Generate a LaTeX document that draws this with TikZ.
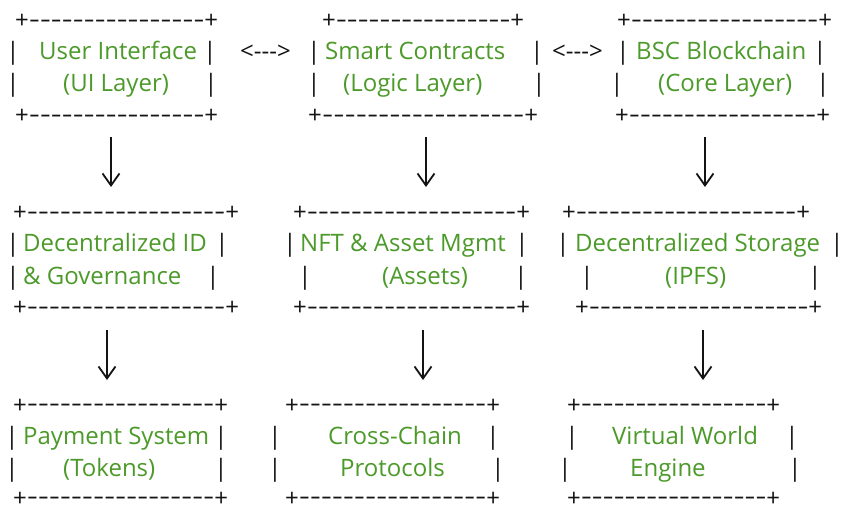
\documentclass[tikz,border=0pt]{standalone}
\usepackage{fontspec}
\newfontfamily\osans{Open Sans}
\usepackage{graphicx}
\usetikzlibrary{arrows.meta}
\definecolor{lblgreen}{RGB}{76,154,42}
\definecolor{ink}{RGB}{20,20,20}
\newcommand\dsh{\raisebox{1.5pt}{\scalebox{1.4}[1]{\hbox{-}}}}
\newcommand\bord[1]{\hbox to #1pt{+\xleaders\hbox{\dsh}\hfill+}}
\newcommand\lnk{<\hbox{-}\hbox{-}\hbox{-}>}
\tikzset{
  txtbase/.style={inner sep=0pt, font=\osans\fontsize{24}{30}\selectfont},
  bordtxt/.style={txtbase, anchor=base west, text=ink},
  bartxt/.style={txtbase, anchor=base, text=ink},
  lbl/.style={txtbase, anchor=base west, text=lblgreen},
  linktxt/.style={txtbase, anchor=base west, text=ink},
  flow/.style={draw=ink, line width=1.8pt, -{Straight Barb[length=12pt,width=17pt,line width=1.8pt]}}
}
\begin{document}
\begin{tikzpicture}[x=1pt,y=-1pt]
\fill[white] (0,0) rectangle (841,505);
\useasboundingbox (0,0) rectangle (841,505);
% ---------- Row 1 ----------
% Box A
\node[bordtxt] (aTop) at (15,29) {\bord{203}};
\node[bartxt] (aL1a) at (13,60) {|};
\node[lbl] (aName) at (39,60) {User Interface};
\node[bartxt] (aL1b) at (210,60) {|};
\node[bartxt] (aL2a) at (13,92) {|};
\node[lbl] (aSub) at (63,92) {(UI Layer)};
\node[bartxt] (aL2b) at (211,92) {|};
\node[bordtxt] (aBot) at (15,124) {\bord{203}};
\node[linktxt] (lnkAB) at (240,60) {\lnk};
% Box B
\node[bordtxt] (bTop) at (322,29) {\bord{202}};
\node[bartxt] (bL1a) at (314,60) {|};
\node[lbl] (bName) at (325,60) {Smart Contracts};
\node[bartxt] (bL1b) at (537,60) {|};
\node[bartxt] (bL2a) at (314,92) {|};
\node[lbl] (bSub) at (343,92) {(Logic Layer)};
\node[bartxt] (bL2b) at (539,92) {|};
\node[bordtxt] (bBot) at (308,124) {\bord{230}};
\node[linktxt] (lnkBC) at (552,60) {\lnk};
% Box C
\node[bordtxt] (cTop) at (617,29) {\bord{215}};
\node[bartxt] (cL1a) at (623,60) {|};
\node[lbl] (cName) at (636,60) {BSC Blockchain};
\node[bartxt] (cL1b) at (820,60) {|};
\node[bartxt] (cL2a) at (617,92) {|};
\node[lbl] (cSub) at (658,92) {(Core Layer)};
\node[bartxt] (cL2b) at (823,92) {|};
\node[bordtxt] (cBot) at (615,124) {\bord{215}};
% ---------- Row 2 ----------
% Box D
\node[bordtxt] (dTop) at (13,221) {\bord{226}};
\node[bartxt] (dL1a) at (13,252) {|};
\node[lbl] (dName) at (23,252) {Decentralized ID};
\node[bartxt] (dL1b) at (222,252) {|};
\node[bartxt] (dL2a) at (13,284) {|};
\node[lbl] (dSub) at (23,284) {\& Governance};
\node[bartxt] (dL2b) at (213,284) {|};
\node[bordtxt] (dBot) at (13,316) {\bord{226}};
% Box E
\node[bordtxt] (eTop) at (293,221) {\bord{237}};
\node[bartxt] (eL1a) at (290,252) {|};
\node[lbl] (eName) at (300,252) {NFT \& Asset Mgmt};
\node[bartxt] (eL1b) at (522,252) {|};
\node[bartxt] (eL2a) at (305,284) {|};
\node[lbl] (eSub) at (382,284) {(Assets)};
\node[bartxt] (eL2b) at (521,284) {|};
\node[bordtxt] (eBot) at (293,316) {\bord{237}};
% Box F
\node[bordtxt] (fTop) at (562,221) {\bord{248}};
\node[bartxt] (fL1a) at (563,252) {|};
\node[lbl] (fName) at (575,252) {Decentralized Storage};
\node[bartxt] (fL1b) at (837,252) {|};
\node[bartxt] (fL2a) at (587,284) {|};
\node[lbl] (fSub) at (665,284) {(IPFS)};
\node[bartxt] (fL2b) at (815,284) {|};
\node[bordtxt] (fBot) at (575,316) {\bord{247}};
% ---------- Row 3 ----------
% Box G
\node[bordtxt] (gTop) at (13,413) {\bord{215}};
\node[bartxt] (gL1a) at (12,444) {|};
\node[lbl] (gName) at (23,444) {Payment System};
\node[bartxt] (gL1b) at (221,444) {|};
\node[bartxt] (gL2a) at (12,476) {|};
\node[lbl] (gSub) at (63,476) {(Tokens)};
\node[bartxt] (gL2b) at (221,476) {|};
\node[bordtxt] (gBot) at (13,506) {\bord{215}};
% Box H
\node[bordtxt] (hTop) at (285,413) {\bord{215}};
\node[bartxt] (hL1a) at (275,444) {|};
\node[lbl] (hName) at (328,444) {Cross-Chain};
\node[bartxt] (hL1b) at (493,444) {|};
\node[bartxt] (hL2a) at (275,476) {|};
\node[lbl] (hSub) at (340,476) {Protocols};
\node[bartxt] (hL2b) at (498,476) {|};
\node[bordtxt] (hBot) at (285,506) {\bord{215}};
% Box I
\node[bordtxt] (iTop) at (567,413) {\bord{213}};
\node[bartxt] (iL1a) at (572,444) {|};
\node[lbl] (iName) at (612,444) {Virtual World};
\node[bartxt] (iL1b) at (792,444) {|};
\node[bartxt] (iL2a) at (565,476) {|};
\node[lbl] (iSub) at (630,476) {Engine};
\node[bartxt] (iL2b) at (795,476) {|};
\node[bordtxt] (iBot) at (567,506) {\bord{213}};
% ---------- Arrows ----------
\coordinate (ad1) at (111,137); \coordinate (ad2) at (111,187);
\coordinate (be1) at (426,137); \coordinate (be2) at (426,187);
\coordinate (cf1) at (705,137); \coordinate (cf2) at (705,187);
\coordinate (dg1) at (107,330); \coordinate (dg2) at (107,380);
\coordinate (eh1) at (423,330); \coordinate (eh2) at (423,380);
\coordinate (fi1) at (703,330); \coordinate (fi2) at (703,380);
\draw[flow] (ad1) -- (ad2);
\draw[flow] (be1) -- (be2);
\draw[flow] (cf1) -- (cf2);
\draw[flow] (dg1) -- (dg2);
\draw[flow] (eh1) -- (eh2);
\draw[flow] (fi1) -- (fi2);
\end{tikzpicture}
\end{document}
